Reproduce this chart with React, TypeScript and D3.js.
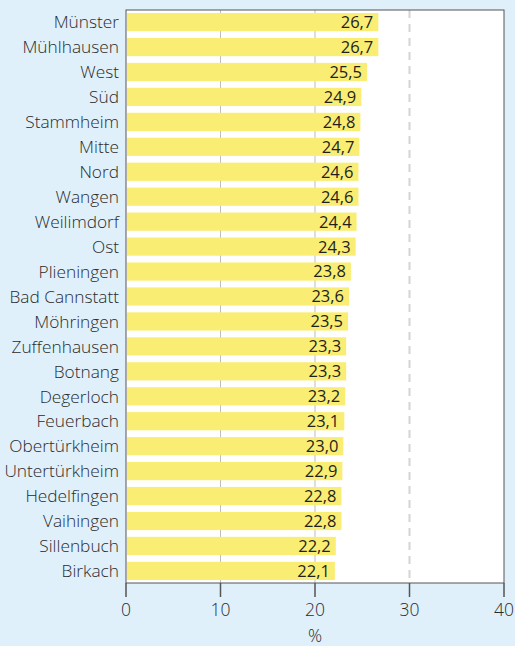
import * as d3 from 'd3';
import React, { useEffect, useRef } from 'react';

// districts, top to bottom
const districts = [
  'Münster', 'Mühlhausen', 'West', 'Süd', 'Stammheim', 'Mitte', 'Nord', 'Wangen',
  'Weilimdorf', 'Ost', 'Plieningen', 'Bad Cannstatt', 'Möhringen', 'Zuffenhausen',
  'Botnang', 'Degerloch', 'Feuerbach', 'Obertürkheim', 'Untertürkheim', 'Hedelfingen',
  'Vaihingen', 'Sillenbuch', 'Birkach',
];
const shares = [
  26.7, 26.7, 25.5, 24.9, 24.8, 24.7, 24.6, 24.6, 24.4, 24.3, 23.8, 23.6, 23.5, 23.3,
  23.3, 23.2, 23.1, 23.0, 22.9, 22.8, 22.8, 22.2, 22.1,
];
const xTicks = [0, 10, 20, 30, 40];

const App = () => {
  const ref = useRef<SVGSVGElement | null>(null);
  const svgWidth = 515;
  const svgHeight = 646;
  const margin = { top: 10, right: 11, bottom: 63, left: 126 };
  const width = svgWidth - margin.left - margin.right;
  const height = svgHeight - margin.top - margin.bottom;
  const font = '"Open Sans", "Noto Sans", sans-serif';

  useEffect(() => {
    const svg = d3.select(ref.current);
    svg.selectAll('*').remove();

    svg.append('rect')
      .attr('width', svgWidth)
      .attr('height', svgHeight)
      .attr('fill', '#dff0fb');

    const g = svg.append('g').attr('transform', `translate(${margin.left},${margin.top})`);

    const x = d3.scaleLinear().domain([0, 40]).range([0, width]);
    const y = d3.scaleBand().domain(districts).range([0, height]).paddingInner(0.27).paddingOuter(0.12);

    // plot area
    g.append('rect')
      .attr('width', width)
      .attr('height', height)
      .attr('fill', '#ffffff');

    // grid lines
    g.selectAll('.grid')
      .data(xTicks.filter(t => t > 0 && t < 40))
      .enter()
      .append('line')
      .attr('x1', d => x(d))
      .attr('x2', d => x(d))
      .attr('y1', 0)
      .attr('y2', height)
      .attr('stroke', d => (d === 30 ? '#d4d4d4' : '#bdbdbd'))
      .attr('stroke-width', d => (d === 30 ? 2 : 1))
      .attr('stroke-dasharray', d => (d === 30 ? '8,6' : null));

    // bars
    g.selectAll('.bar')
      .data(shares)
      .enter()
      .append('rect')
      .attr('x', 1)
      .attr('y', (d, i) => y(districts[i])!)
      .attr('width', d => x(d) - 1)
      .attr('height', y.bandwidth())
      .attr('fill', '#f9ee73');

    // value labels
    g.selectAll('.val')
      .data(shares)
      .enter()
      .append('text')
      .attr('x', d => x(d) - 5)
      .attr('y', (d, i) => y(districts[i])! + y.bandwidth() / 2)
      .attr('dy', '0.36em')
      .attr('text-anchor', 'end')
      .style('font-family', font)
      .style('font-size', '16.5px')
      .style('font-weight', 500)
      .style('fill', '#1f1f1f')
      .text(d => d.toFixed(1).replace('.', ','));

    // category labels
    g.selectAll('.cat')
      .data(districts)
      .enter()
      .append('text')
      .attr('x', -7)
      .attr('y', d => y(d)! + y.bandwidth() / 2)
      .attr('dy', '0.36em')
      .attr('text-anchor', 'end')
      .style('font-family', font)
      .style('font-size', '17.3px')
      .style('font-weight', 300)
      .style('fill', '#2b2b2b')
      .text(d => d);

    // frame
    g.append('rect')
      .attr('width', width)
      .attr('height', height)
      .attr('fill', 'none')
      .attr('stroke', '#555555')
      .attr('stroke-width', 1);

    // x axis
    const axis = g.append('g').attr('transform', `translate(0,${height})`);
    axis.selectAll('line')
      .data(xTicks)
      .enter()
      .append('line')
      .attr('x1', d => x(d))
      .attr('x2', d => x(d))
      .attr('y1', 0)
      .attr('y2', 14)
      .attr('stroke', '#555555')
      .attr('stroke-width', 1.5);
    axis.selectAll('text')
      .data(xTicks)
      .enter()
      .append('text')
      .attr('x', d => x(d))
      .attr('y', 33)
      .attr('text-anchor', 'middle')
      .style('font-family', font)
      .style('font-size', '17.5px')
      .style('font-weight', 300)
      .style('fill', '#2b2b2b')
      .text(d => d);

    g.append('text')
      .attr('x', width / 2)
      .attr('y', height + 59)
      .attr('text-anchor', 'middle')
      .style('font-family', font)
      .style('font-size', '17.5px')
      .style('font-weight', 300)
      .style('fill', '#2b2b2b')
      .text('%');
  }, []);

  return (
    <svg
      ref={ref}
      width={svgWidth}
      height={svgHeight}
      style={{ position: 'absolute', left: 0, top: 0, display: 'block' }}
    />
  );
};

export default App;
